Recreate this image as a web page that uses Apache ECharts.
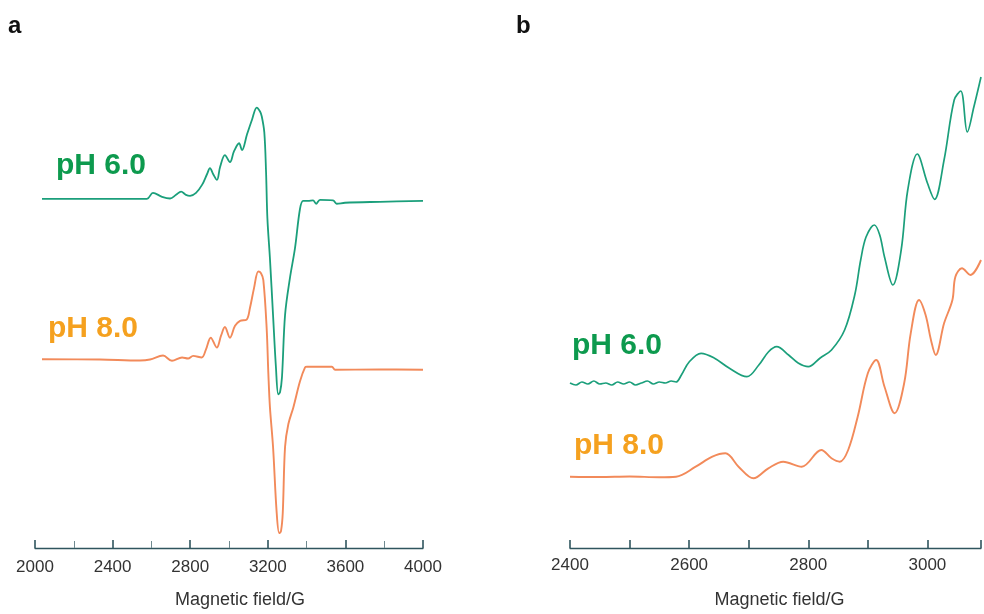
<!DOCTYPE html>
<html>
<head>
<meta charset="utf-8">
<script src="https://cdn.jsdelivr.net/npm/echarts@6/dist/echarts.min.js"></script>
<style>
html,body{margin:0;padding:0;background:#fff;}
#chart{width:984px;height:614px;}
</style>
</head>
<body>
<div id="chart"></div>
<script>
// Panel a: magnetic field (G) and signal (a.u.)
var a6Field  = [2036,2335,2577,2608,2655,2696,2727,2753,2778,2799,2830,2861,2887,2902,2918,2938,2954,2979,3005,3026,3052,3067,3093,3119,3143,3160,3169,3182,3191,3198,3211,3227,3242,3254,3263,3273,3289,3314,3340,3366,3382,3407,3433,3449,3469,3536,3555,3598,3778,4000];
var a6Signal = [352,352,352,358,354,352.3,356,359.3,356,355,358,366,377,383,377,371,384,396,389,400,408,401,417,432,444,440,435,419,379,332,292,235,182,155,157,172,235,272,302,342,350,350,350.5,347,351,350.5,347,348,349,350];

var a8Field  = [2036,2335,2541,2593,2660,2706,2758,2789,2815,2859,2881,2906,2937,2959,2979,3005,3031,3057,3091,3108,3129,3151,3165,3177,3194,3203,3211,3227,3246,3259,3268,3277,3289,3306,3332,3366,3392,3402,3530,3547,3778,4000];
var a8Signal = [190.3,190,189,190,194,188.7,192,191,193.7,192,200,212,202,214,222.7,212,224,229,230.3,242,262,278.7,277,270,222,175,142,102,35,15,17,35,102,125,142,168,182,182.7,182.7,179.7,180,179.7];

// Panel b
var b6Field  = [2400,2410,2420,2430,2440,2450,2460,2470,2480,2490,2500,2510,2520,2530,2540,2550,2560,2570,2578,2587,2600,2620,2642,2667,2697,2717,2733,2747,2767,2783,2800,2820,2839,2861,2878,2888,2897,2911,2920,2928,2942,2956,2967,2983,3000,3012,3028,3045,3056,3067,3078,3090];
var b6Signal = [165,163,166,164,167,164,165,163,166,164,166,163,165,167,164,166,165,167,166,173,186,194.7,190,180,171.3,183,196,201.3,193,185,181.3,190,198,218,253,288,311,323,313,291,263,298,358,394,365,348.7,388,448,457,416,441,471];

var b8Field  = [2400,2450,2500,2550,2578,2611,2639,2661,2683,2708,2733,2758,2789,2822,2839,2853,2867,2883,2900,2914,2928,2945,2961,2972,2986,2997,3006,3014,3028,3042,3047,3058,3072,3090];
var b8Signal = [71.3,71,71.5,70.8,71.3,81.3,91.3,94.7,81.3,69.7,79.7,86.3,81.3,98,89.7,86.3,98,131.3,174.7,188,161.3,134.7,164.7,214.7,248,233,208,193,224.7,248,271.3,279.7,273,288];

var aTicks = [2000,2400,2800,3200,3600,4000];
var bTicks = [2400,2600,2800,3000];

function zip(xs, ys){ return xs.map(function(x,i){ return [x, ys[i]]; }); }

var greenLine = '#1b9f7b', orangeLine = '#f28a5a';
var greenText = '#0d9a4e', orangeText = '#f5a11f';
var axisCol = '#2f555e';
var fontFam = '"Liberation Sans", Arial, Helvetica, sans-serif';

var chart = echarts.init(document.getElementById('chart'), null, {renderer:'canvas'});

function xAxisCfg(idx, min, max, interval, labels, minor, margin, namePad){
  return {
    type:'value', gridIndex: idx, min:min, max:max, interval:interval,
    axisLine:{show:true, lineStyle:{color:axisCol, width:1.3}},
    axisTick:{show:true, inside:true, length:8, lineStyle:{color:axisCol, width:1.6}},
    minorTick: minor ? {show:true, splitNumber:2, length:7, lineStyle:{color:'#6f8a90', width:1}} : {show:false},
    splitLine:{show:false},
    axisLabel:{show:true, margin:margin, color:'#333', fontSize:17, fontFamily:fontFam,
      formatter:function(v){ return labels.indexOf(v) >= 0 ? String(v) : ''; }},
    name:'Magnetic field/G', nameLocation:'middle', nameGap:43,
    nameTextStyle:{color:'#333', fontSize:18, fontFamily:fontFam, padding:[0,0,0,namePad]}
  };
}

var option = {
  backgroundColor:'#fff',
  animation:false,
  grid:[
    {left:35, right:561, top:50, bottom:62, containLabel:false},
    {left:570, right:0, top:50, bottom:66, containLabel:false}
  ],
  xAxis:[
    xAxisCfg(0, 2000, 4000, 400, aTicks, true, 11, 22),
    xAxisCfg(1, 2400, 3090, 100, bTicks, false, 9, 8)
  ],
  yAxis:[
    {type:'value', gridIndex:0, min:0, max:502, show:false},
    {type:'value', gridIndex:1, min:0, max:498, show:false}
  ],
  series:[
    {type:'line', name:'pH 6.0 a', xAxisIndex:0, yAxisIndex:0, data:zip(a6Field,a6Signal), showSymbol:false, smooth:0.35, lineStyle:{color:greenLine, width:1.8}, z:3},
    {type:'line', name:'pH 8.0 a', xAxisIndex:0, yAxisIndex:0, data:zip(a8Field,a8Signal), showSymbol:false, smooth:0.35, lineStyle:{color:orangeLine, width:1.9}, z:2},
    {type:'line', name:'pH 6.0 b', xAxisIndex:1, yAxisIndex:1, data:zip(b6Field,b6Signal), showSymbol:false, smooth:0.35, lineStyle:{color:greenLine, width:1.7}, z:3},
    {type:'line', name:'pH 8.0 b', xAxisIndex:1, yAxisIndex:1, data:zip(b8Field,b8Signal), showSymbol:false, smooth:0.35, lineStyle:{color:orangeLine, width:1.9}, z:2}
  ],
  graphic:[
    {type:'text', left:8, top:14, style:{text:'a', fontSize:24, fontWeight:'bold', fontFamily:fontFam, fill:'#111'}},
    {type:'text', left:516, top:14, style:{text:'b', fontSize:24, fontWeight:'bold', fontFamily:fontFam, fill:'#111'}},
    {type:'text', x:56, y:166, style:{text:'pH 6.0', fontSize:30, fontWeight:'bold', fontFamily:fontFam, fill:greenText, verticalAlign:'middle'}},
    {type:'text', x:48, y:329, style:{text:'pH 8.0', fontSize:30, fontWeight:'bold', fontFamily:fontFam, fill:orangeText, verticalAlign:'middle'}},
    {type:'text', x:572, y:346, style:{text:'pH 6.0', fontSize:30, fontWeight:'bold', fontFamily:fontFam, fill:greenText, verticalAlign:'middle'}},
    {type:'text', x:574, y:446, style:{text:'pH 8.0', fontSize:30, fontWeight:'bold', fontFamily:fontFam, fill:orangeText, verticalAlign:'middle'}}
  ]
};
chart.setOption(option);
</script>
</body>
</html>
